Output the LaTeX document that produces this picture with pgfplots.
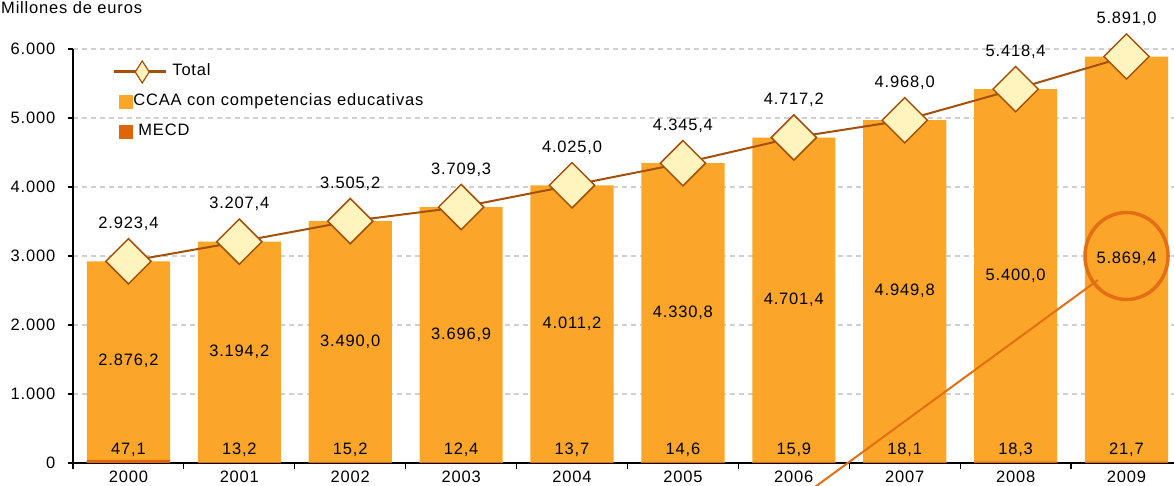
\documentclass[border=0pt]{standalone}
\usepackage{fontspec}
\setmainfont{Liberation Sans}[LetterSpace=5]
\usepackage{pgfplots}
\usepackage{pgfplotstable}
\pgfplotsset{compat=1.18}
\definecolor{barorange}{HTML}{FBA628}
\definecolor{mecdorange}{HTML}{E0640A}
\definecolor{linebrown}{HTML}{A5500A}
\definecolor{diamondfill}{HTML}{FFF4BE}
\definecolor{annot}{HTML}{E46E14}
\definecolor{gridgray}{HTML}{D0D0D0}
\pgfkeys{/pgf/number format/.cd, assume math mode=true, use comma, 1000 sep={.}}
\pgfplotstableread{
x mecd ccaa total
0 47.1 2876.2 2923.4
1 13.2 3194.2 3207.4
2 15.2 3490.0 3505.2
3 12.4 3696.9 3709.3
4 13.7 4011.2 4025.0
5 14.6 4330.8 4345.4
6 15.9 4701.4 4717.2
7 18.1 4949.8 4968.0
8 18.3 5400.0 5418.4
9 21.7 5869.4 5891.0
}\datatable
\tikzset{
  onedec/.style={/pgf/number format/fixed, /pgf/number format/fixed zerofill, /pgf/number format/precision=1},
}
\begin{document}
\fontsize{16.5bp}{19bp}\selectfont
\begin{tikzpicture}
\useasboundingbox (-73bp,-23bp) rectangle (1101bp,463bp);
\clip (-73bp,-23bp) rectangle (1101bp,463bp);
\begin{axis}[
  at={(0,0)}, anchor=south west,
  scale only axis, width=1109bp, height=414bp,
  xmin=-0.5, xmax=9.5, ymin=0, ymax=6000,
  axis x line=bottom, axis y line=left,
  axis line style={-, black, line width=1.5bp},
  clip=false,
  xtick={0,...,9}, xticklabels={2000,2001,2002,2003,2004,2005,2006,2007,2008,2009},
  minor xtick={-0.5,0.5,...,9.5},
  ytick={0,1000,...,6000},
  scaled y ticks=false,
  tick align=outside,
  major tick length=5bp, minor tick length=6bp,
  tick style={black, line width=1.2bp},
  major x tick style={draw=none},
  ymajorgrids,
  major grid style={gridgray, line width=1.2bp, dash pattern=on 5bp off 4bp},
  xticklabel style={anchor=base, inner sep=0pt, yshift=-15bp},
  yticklabel style={anchor=east, xshift=-7bp},
  legend cell align=left,
  legend style={draw=none, fill=none, inner sep=0pt, outer sep=0pt,
    at={(0.0415,0.9614)}, anchor=north west, row sep=16bp, column sep=1bp,
    nodes={inner sep=0pt, text height=11bp, text depth=3bp}},
]
\addlegendimage{legend image code/.code={
  \path[draw=none, fill=none] (0bp,-6.5bp) rectangle (13bp,6.5bp);
  \draw[overlay, linebrown, line width=3bp] (-5bp,0) -- (47bp,0);
  \draw[overlay, linebrown, fill=diamondfill, line width=1.2bp] (23bp,11bp) -- (30bp,0) -- (23bp,-11bp) -- (16bp,0) -- cycle;
}}
\addlegendentry{\hspace*{39bp}Total}
\addlegendimage{legend image code/.code={
  \fill[barorange] (0bp,-6.5bp) rectangle (13bp,6.5bp);
}}
\addlegendentry{CCAA con competencias educativas}
\addlegendimage{legend image code/.code={
  \fill[mecdorange] (0bp,-6.5bp) rectangle (13bp,6.5bp);
}}
\addlegendentry{\hspace*{5bp}MECD}

% bars: full height (CCAA + MECD), then MECD on top
\addplot[forget plot, ybar, bar width=0.75, bar shift=0pt, fill=barorange, draw=none]
  table[x=x, y=total] {\datatable};
\addplot[forget plot, ybar, bar width=0.75, bar shift=0pt, fill=mecdorange, draw=none]
  table[x=x, y=mecd] {\datatable};
% total line
\addplot[forget plot, sharp plot, linebrown, line width=2bp,
  mark=square*, mark size=16bp,
  mark options={rotate=45, fill=diamondfill, draw=linebrown, line width=1.5bp, solid},
  point meta=explicit, nodes near coords,
  every node near coord/.append style={anchor=base, yshift=33bp, text=black, onedec}]
  table[x=x, y=total, meta=total] {\datatable};
% CCAA labels
\addplot[forget plot, only marks, mark=none,
  point meta=explicit, nodes near coords,
  every node near coord/.append style={anchor=center, text=black, onedec}]
  table[x=x, y expr=\thisrow{mecd}+0.5*\thisrow{ccaa}, meta=ccaa] {\datatable};
% MECD labels
\addplot[forget plot, only marks, mark=none,
  point meta=explicit, nodes near coords,
  every node near coord/.append style={anchor=base, yshift=8bp, text=black, onedec}]
  table[x=x, y expr=0, meta=mecd] {\datatable};

% annotation
\draw[annot, line width=3.5bp] (axis cs:9.0,3000) ellipse [x radius=41.5bp, y radius=43.5bp];
\draw[annot, line width=2bp] (axis cs:8.742,2652) -- (axis cs:6.03,-536);
\end{axis}
\node[anchor=base west, inner sep=0pt] at (-72bp,449bp) {Millones de euros};
\end{tikzpicture}
\end{document}
